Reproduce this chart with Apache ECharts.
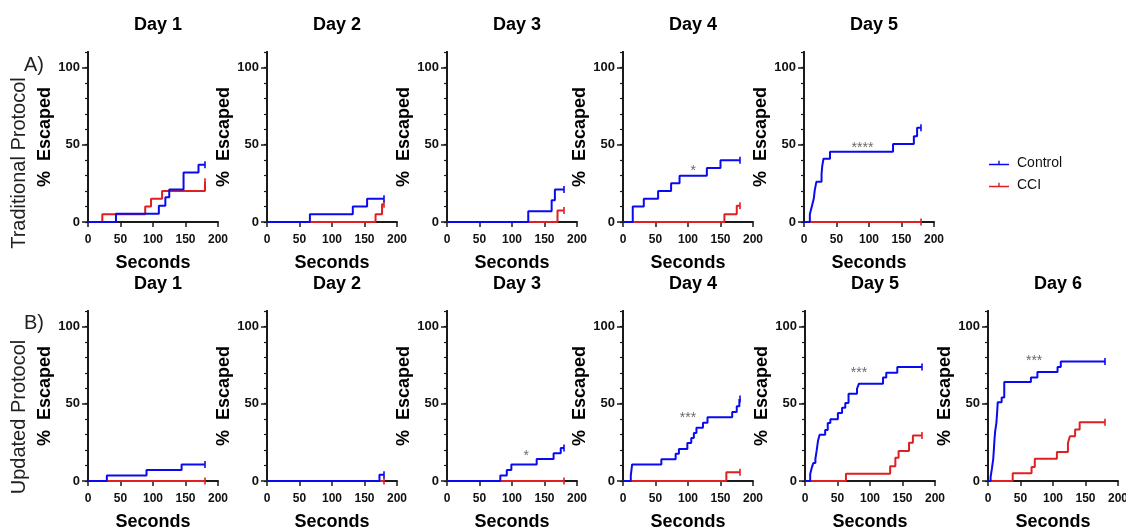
<!DOCTYPE html>
<html><head><meta charset="utf-8">
<script src="https://cdn.jsdelivr.net/npm/echarts@6/dist/echarts.min.js"></script>
<style>html,body{margin:0;padding:0;background:#fff}#c{width:1126px;height:529px}</style>
</head><body><div id="c"></div><script>
// ---------- DATA ----------
const xTicks = [0, 50, 100, 150, 200];
const yTicks = [0, 50, 100];
const topTitles = ['Day 1', 'Day 2', 'Day 3', 'Day 4', 'Day 5'];
const bottomTitles = ['Day 1', 'Day 2', 'Day 3', 'Day 4', 'Day 5', 'Day 6'];
const seriesNames = ['Control', 'CCI'];
const rowLabels = ['Traditional Protocol', 'Updated Protocol'];
const rowLetters = ['A)', 'B)'];

// Traditional protocol (row A)  [seconds, % escaped]
const tradD1Control = [[0,0],[43,5.3],[109,10.5],[119,16],[125,21],[147,32],[170,37],[180,37]];
const tradD1CCI     = [[0,0],[22,5],[88,10],[97,15],[114,20],[180,26]];
const tradD2Control = [[0,0],[66,5],[132,10],[154,15],[180,15]];
const tradD2CCI     = [[0,0],[167,5],[177,11.5],[180,11.5]];
const tradD3Control = [[0,0],[125,7],[161,14],[166,21],[180,21]];
const tradD3CCI     = [[0,0],[170,7.5],[180,7.5]];
const tradD4Control = [[0,0],[15,10],[32,15],[54,20],[74,25],[87,30],[129,35],[150,40],[180,40]];
const tradD4CCI     = [[0,0],[156,5],[175,10.5],[180,10.5]];
const tradD5Control = [[0,0],[9,5],[12,10],[15,15],[16.5,20.5],[19,26],[27,31],[28,36],[30,41],[40,45.5],[137,50.5],[169,55.5],[174,61],[180,61]];
const tradD5CCI     = [[0,0],[180,0]];

// Updated protocol (row B)
const updD1Control = [[0,0],[29,3.6],[90,7.1],[144,10.7],[180,10.7]];
const updD1CCI     = [[0,0],[180,0]];
const updD2Control = [[0,0],[173,4],[180,4]];
const updD2CCI     = [[0,0],[180,0]];
const updD3Control = [[0,0],[82,3.6],[92,7.1],[99,10.7],[138,14.3],[164,17.9],[175,21.4],[180,21.4]];
const updD3CCI     = [[0,0],[180,0]];
const updD4Control = [[0,0],[12,3.6],[13,7.1],[14,10.7],[59,14],[81,17.7],[86,20.7],[99,24.6],[105,27.8],[109,31],[113,34.5],[123,37.7],[130,41.2],[168,44.6],[175,48.3],[179,53],[180,53]];
const updD4CCI     = [[0,0],[159,5.6],[180,5.6]];
const updD5Control = [[0,0],[8,4.5],[10.7,9],[12.8,11.6],[16,14.4],[18,19.8],[20,26],[22.5,30],[31,33],[35,37.5],[39,40],[50.6,44],[57,47.4],[62,50.4],[67,56.5],[80,59.7],[83,63],[120,67],[125,70],[142,73.7],[180,73.7]];
const updD5CCI     = [[0,0],[63,4.7],[131,9.5],[139,15],[144,19.4],[160,24.8],[166,29.5],[180,29.5]];
const updD6Control = [[0,0],[4,2.5],[6,8],[8,14],[9,20],[10,27],[11,32],[13,38],[14,44],[15,51],[21,54],[25,64],[66,67],[76,70.5],[107,73.7],[112,77.4],[180,77.4]];
const updD6CCI     = [[0,0],[38,5],[67,9],[72,14.4],[106,18.8],[123,24.6],[126,29],[134,33.4],[141,38],[180,38]];

// significance annotations [seconds, %, text]
const annTradD4 = [108, 35, '*'];
const annTradD5 = [90, 49.5, '****'];
const annUpdD3 = [122, 18, '*'];
const annUpdD4 = [100, 42.5, '***'];
const annUpdD5 = [83, 71.5, '***'];
const annUpdD6 = [71, 79.7, '***'];

// ---------- LAYOUT / STYLE ----------
const COLORS = {Control: '#0a0af0', CCI: '#e02020'};
const FONT = 'Arial, "Liberation Sans", sans-serif';
const rowTop = [52, 311];
const rowLefts = [[88, 267, 447, 623, 804], [88, 267, 447, 623, 805, 988]];
const PW = 130, PH = 170;

const panels = [
  {row:0, col:0, title: topTitles[0], control: tradD1Control, cci: tradD1CCI, ann: null},
  {row:0, col:1, title: topTitles[1], control: tradD2Control, cci: tradD2CCI, ann: null},
  {row:0, col:2, title: topTitles[2], control: tradD3Control, cci: tradD3CCI, ann: null},
  {row:0, col:3, title: topTitles[3], control: tradD4Control, cci: tradD4CCI, ann: annTradD4},
  {row:0, col:4, title: topTitles[4], control: tradD5Control, cci: tradD5CCI, ann: annTradD5},
  {row:1, col:0, title: bottomTitles[0], control: updD1Control, cci: updD1CCI, ann: null},
  {row:1, col:1, title: bottomTitles[1], control: updD2Control, cci: updD2CCI, ann: null},
  {row:1, col:2, title: bottomTitles[2], control: updD3Control, cci: updD3CCI, ann: annUpdD3},
  {row:1, col:3, title: bottomTitles[3], control: updD4Control, cci: updD4CCI, ann: annUpdD4},
  {row:1, col:4, title: bottomTitles[4], control: updD5Control, cci: updD5CCI, ann: annUpdD5},
  {row:1, col:5, title: bottomTitles[5], control: updD6Control, cci: updD6CCI, ann: annUpdD6}
];

const grid = [], xAxis = [], yAxis = [], series = [], title = [];
const axisLine = {show: true, onZero: false, lineStyle: {color: '#1a1a1a', width: 2}};

panels.forEach((p, i) => {
  const left = rowLefts[p.row][p.col], top = rowTop[p.row];
  grid.push({left: left, top: top, width: PW, height: PH, containLabel: false, outerBoundsMode: 'none'});
  title.push({
    text: p.title, left: left + PW / 2, top: top - 41, textAlign: 'center',
    textStyle: {fontFamily: FONT, fontWeight: 'bold', fontSize: 18, color: '#000'}
  });
  xAxis.push({
    type: 'value', gridIndex: i, position: 'bottom', min: xTicks[0], max: xTicks[xTicks.length - 1], interval: 50,
    axisLine: axisLine,
    axisTick: {show: true, length: 5, lineStyle: {color: '#1a1a1a', width: 1.5}},
    axisLabel: {fontFamily: FONT, fontWeight: 'bold', fontSize: 12, color: '#111', margin: 12},
    splitLine: {show: false},
    name: 'Seconds', nameLocation: 'middle', nameGap: 32,
    nameTextStyle: {fontFamily: FONT, fontWeight: 'bold', fontSize: 18, color: '#000'}
  });
  // minor-tick axis
  yAxis.push({
    type: 'value', gridIndex: i, position: 'left', offset: 0, min: 0, max: 110, interval: 10,
    axisLine: axisLine,
    axisTick: {show: true, length: 3, lineStyle: {color: '#1a1a1a', width: 1.2}},
    axisLabel: {show: false}, splitLine: {show: false}
  });
  // major-tick axis with labels
  yAxis.push({
    type: 'value', gridIndex: i, position: 'left', offset: 0, min: 0, max: 110,
    axisLine: axisLine,
    axisTick: {show: true, length: 6, customValues: yTicks, lineStyle: {color: '#1a1a1a', width: 1.5}},
    axisLabel: {customValues: yTicks, fontFamily: FONT, fontWeight: 'bold', fontSize: 13, color: '#111', margin: 8},
    splitLine: {show: false},
    name: '%  Escaped', nameLocation: 'middle', nameGap: 34,
    nameTextStyle: {fontFamily: FONT, fontWeight: 'bold', fontSize: 18, color: '#000'}
  });
  const yIdx = 2 * i + 1;
  [['CCI', p.cci], ['Control', p.control]].forEach(([name, data]) => {
    series.push({
      type: 'line', name: name, xAxisIndex: i, yAxisIndex: yIdx, data: data, step: 'end',
      showSymbol: false, symbol: 'none', silent: true,
      lineStyle: {color: COLORS[name], width: 2}, itemStyle: {color: COLORS[name]},
      z: name === 'Control' ? 4 : 3
    });
    series.push({
      type: 'scatter', name: name, xAxisIndex: i, yAxisIndex: yIdx, data: [data[data.length - 1]],
      symbol: 'rect', symbolSize: [2, 7], silent: true,
      itemStyle: {color: COLORS[name]}, z: 5
    });
  });
  if (p.ann) {
    series.push({
      type: 'scatter', xAxisIndex: i, yAxisIndex: yIdx, data: [[p.ann[0], p.ann[1]]],
      symbolSize: 0, silent: true, z: 6,
      label: {show: true, position: 'inside', formatter: p.ann[2], offset: [0, 3],
              fontFamily: FONT, fontSize: 14, color: '#444'}
    });
  }
});

const graphic = [];
rowLabels.forEach((t, r) => {
  const centerY = rowTop[r] + PH / 2 + (r === 0 ? 26 : 21);
  graphic.push({
    type: 'text', x: 19, y: centerY, rotation: Math.PI / 2,
    style: {text: t, font: '20px ' + FONT, fill: '#222', align: 'center', verticalAlign: 'middle'}
  });
  graphic.push({
    type: 'text', x: 24, y: rowTop[r] + (r === 0 ? 3 : 2),
    style: {text: rowLetters[r], font: '20px ' + FONT, fill: '#222', align: 'left', verticalAlign: 'top'}
  });
});

const option = {
  animation: false,
  backgroundColor: '#fff',
  title: title,
  grid: grid, xAxis: xAxis, yAxis: yAxis, series: series, graphic: graphic,
  legend: {
    data: seriesNames, orient: 'vertical', left: 989, top: 156, itemGap: 8, padding: 0,
    itemWidth: 20, itemHeight: 5, icon: 'path://M0,3H20V4.6H0Z M9.3,0H10.7V4.6H9.3Z',
    selectedMode: false,
    textStyle: {fontFamily: FONT, fontSize: 14, color: '#111', padding: [0, 0, 0, 3]}
  }
};
const chart = echarts.init(document.getElementById('c'), null, {renderer: 'canvas'});
chart.setOption(option);
</script></body></html>
